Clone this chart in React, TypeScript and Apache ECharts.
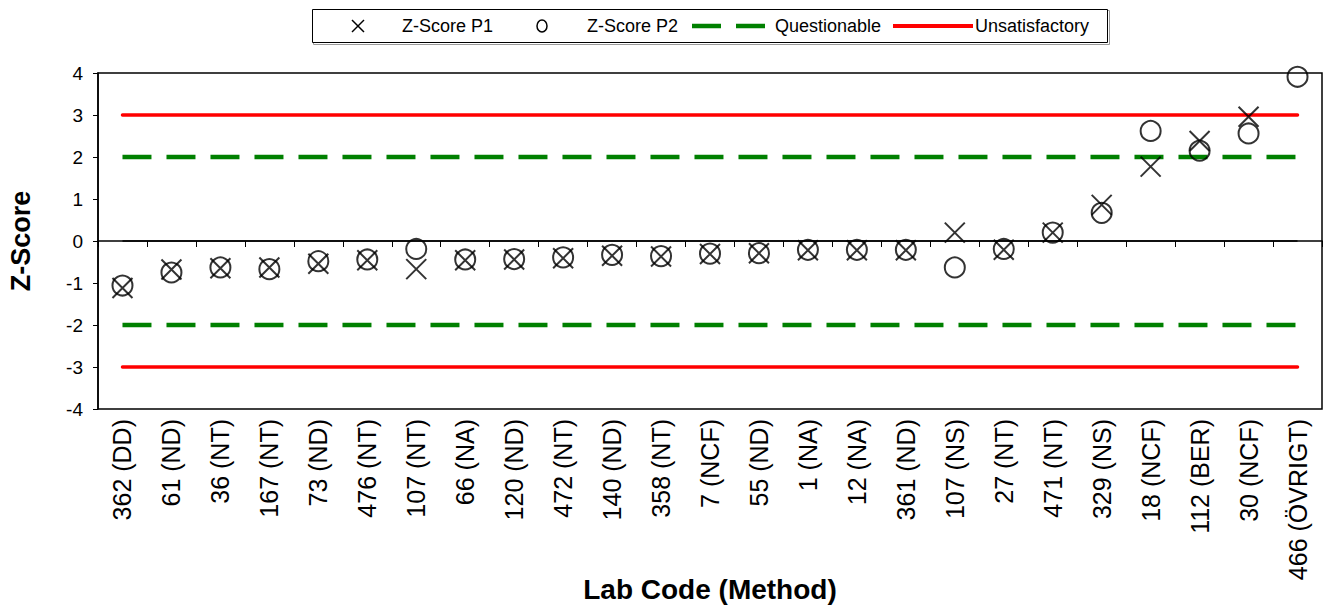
import React, { useEffect, useRef } from "react";
import * as echarts from "echarts";

const categories = [
  "362 (DD)", "61 (ND)", "36 (NT)", "167 (NT)", "73 (ND)", "476 (NT)", "107 (NT)",
  "66 (NA)", "120 (ND)", "472 (NT)", "140 (ND)", "358 (NT)", "7 (NCF)", "55 (ND)",
  "1 (NA)", "12 (NA)", "361 (ND)", "107 (NS)", "27 (NT)", "471 (NT)", "329 (NS)",
  "18 (NCF)", "112 (BER)", "30 (NCF)", "466 (ÖVRIGT)",
];

const zScoreP1 = [
  -1.12, -0.68, -0.65, -0.63, -0.54, -0.46, -0.67, -0.46, -0.44, -0.41, -0.35, -0.37,
  -0.31, -0.29, -0.22, -0.22, -0.22, 0.2, -0.21, 0.2, 0.86, 1.77, 2.38, 2.96, null,
];

const zScoreP2 = [
  -1.06, -0.75, -0.63, -0.67, -0.48, -0.44, -0.19, -0.44, -0.43, -0.39, -0.33, -0.36,
  -0.3, -0.29, -0.21, -0.21, -0.21, -0.63, -0.19, 0.2, 0.67, 2.62, 2.15, 2.56, 3.91,
];

const questionableLimit = 2;
const unsatisfactoryLimit = 3;
const yTicks = { min: -4, max: 4, interval: 1 };

const legendNames = ["Z-Score P1", "Z-Score P2", "Questionable", "Unsatisfactory"];

const FONT = "'Liberation Sans', Arial, Helvetica, sans-serif";
const X_PATH = "path://M0,0L10,10M10,0L0,10";
const GREEN = "#008000";
const RED = "#ff0000";

export default function App() {
  const ref = useRef<HTMLDivElement>(null);

  useEffect(() => {
    if (!ref.current) return;
    const chart = echarts.init(ref.current, undefined, { renderer: "svg" });
    const flat = (v: number) => categories.map(() => v);
    const cy = 26;
    const legendFont = { fontFamily: FONT, fontSize: 18, fill: "#000" };
    const legendLabel = (x: number, text: string) => ({
      type: "text",
      x,
      y: cy,
      silent: true,
      style: { ...legendFont, text, textAlign: "left", textVerticalAlign: "middle" },
    });

    const option: any = {
      animation: false,
      backgroundColor: "#fff",
      textStyle: { fontFamily: FONT, color: "#000" },
      graphic: [
        {
          type: "group",
          silent: true,
          children: [
            {
              type: "rect",
              shape: { x: 313.5, y: 10.5, width: 796, height: 34 },
              style: { fill: "none", stroke: "#9a9a9a", lineWidth: 1 },
            },
            {
              type: "rect",
              shape: { x: 312.5, y: 9.5, width: 795, height: 33 },
              style: { fill: "#fff", stroke: "#000", lineWidth: 1 },
            },
            {
              type: "line",
              shape: { x1: 352, y1: cy - 6, x2: 364, y2: cy + 6 },
              style: { stroke: "#000", lineWidth: 1.5 },
            },
            {
              type: "line",
              shape: { x1: 364, y1: cy - 6, x2: 352, y2: cy + 6 },
              style: { stroke: "#000", lineWidth: 1.5 },
            },
            legendLabel(402, legendNames[0]),
            {
              type: "ellipse",
              shape: { cx: 542, cy, rx: 5, ry: 6 },
              style: { fill: "none", stroke: "#000", lineWidth: 1.5 },
            },
            legendLabel(587, legendNames[1]),
            {
              type: "line",
              shape: { x1: 692, y1: cy, x2: 765, y2: cy },
              style: { stroke: GREEN, lineWidth: 4.5, lineDash: [29, 15] },
            },
            legendLabel(775, legendNames[2]),
            {
              type: "line",
              shape: { x1: 893, y1: cy, x2: 973, y2: cy },
              style: { stroke: RED, lineWidth: 4 },
            },
            legendLabel(975, legendNames[3]),
          ],
        },
      ],
      grid: {
        left: 98,
        right: 5,
        top: 73,
        bottom: 203,
        show: true,
        borderColor: "#000",
        borderWidth: 1.5,
        backgroundColor: "transparent",
        containLabel: false,
        outerBoundsMode: "none",
      },
      xAxis: {
        type: "category",
        data: categories,
        boundaryGap: true,
        name: "Lab Code (Method)",
        nameLocation: "middle",
        nameGap: 166,
        nameMoveOverlap: false,
        nameTextStyle: { fontFamily: FONT, fontSize: 28, fontWeight: "bold", color: "#000" },
        axisLine: { lineStyle: { color: "#000", width: 1.5 } },
        axisTick: { show: true, alignWithLabel: false, length: 6, lineStyle: { color: "#000", width: 1 } },
        axisLabel: {
          rotate: 90,
          interval: 0,
          margin: 10,
          fontFamily: FONT,
          fontSize: 25,
          color: "#000",
        },
        splitLine: { show: false },
      },
      yAxis: {
        type: "value",
        min: yTicks.min,
        max: yTicks.max,
        interval: yTicks.interval,
        name: "Z-Score",
        nameLocation: "middle",
        nameGap: 64,
        nameMoveOverlap: false,
        nameRotate: 90,
        nameTextStyle: { fontFamily: FONT, fontSize: 27, fontWeight: "bold", color: "#000" },
        axisLine: { show: true, lineStyle: { color: "#000", width: 1.5 } },
        axisTick: { show: true, length: 5, lineStyle: { color: "#000", width: 1 } },
        axisLabel: { margin: 15, fontFamily: FONT, fontSize: 19, color: "#000" },
        splitLine: { show: false },
      },
      series: [
        {
          name: legendNames[3],
          type: "line",
          data: flat(unsatisfactoryLimit),
          symbol: "none",
          lineStyle: { color: RED, width: 3.5, cap: "round" },
          itemStyle: { color: RED },
          silent: true,
          z: 2,
        },
        {
          name: legendNames[3],
          type: "line",
          data: flat(-unsatisfactoryLimit),
          symbol: "none",
          lineStyle: { color: RED, width: 3.5, cap: "round" },
          itemStyle: { color: RED },
          silent: true,
          z: 2,
        },
        {
          name: legendNames[2],
          type: "line",
          data: flat(questionableLimit),
          symbol: "none",
          lineStyle: { color: GREEN, width: 4.5, type: [29, 15] },
          itemStyle: { color: GREEN },
          silent: true,
          z: 2,
        },
        {
          name: legendNames[2],
          type: "line",
          data: flat(-questionableLimit),
          symbol: "none",
          lineStyle: { color: GREEN, width: 4.5, type: [29, 15] },
          itemStyle: { color: GREEN },
          silent: true,
          z: 2,
        },
        {
          name: "zero",
          type: "line",
          data: flat(0),
          symbol: "none",
          lineStyle: { color: "#000", width: 1.5 },
          silent: true,
          z: 2,
        },
        {
          name: legendNames[0],
          type: "scatter",
          data: zScoreP1,
          symbol: X_PATH,
          symbolSize: 20,
          itemStyle: { color: "none", borderColor: "#000", borderWidth: 2 },
          z: 5,
        },
        {
          name: legendNames[1],
          type: "scatter",
          data: zScoreP2,
          symbol: "circle",
          symbolSize: 20,
          itemStyle: { color: "none", borderColor: "#000", borderWidth: 2 },
          z: 5,
        },
      ],
    };

    chart.setOption(option);
    return () => chart.dispose();
  }, []);

  return (
    <div
      ref={ref}
      style={{ position: "fixed", left: 0, top: 0, width: 1327, height: 612, background: "#fff" }}
    />
  );
}
